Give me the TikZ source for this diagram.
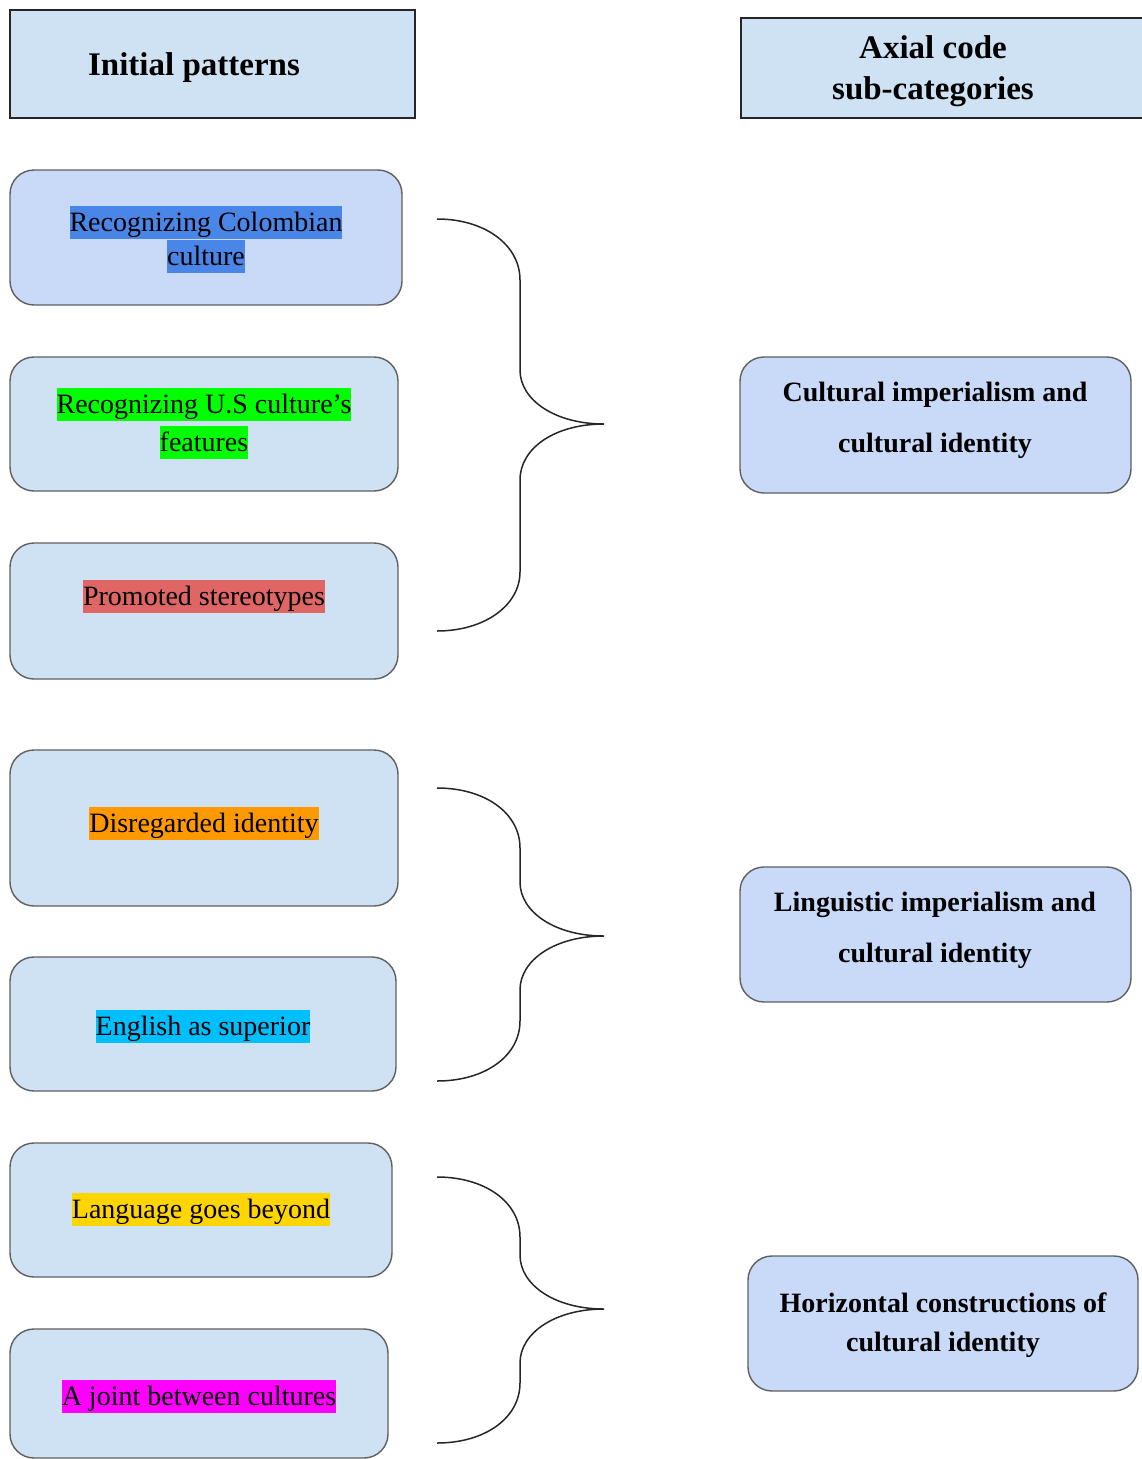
\documentclass[tikz,border=0pt]{standalone}
\usepackage{fontspec}
\setmainfont{Liberation Serif}
\usepackage{tikz}

\definecolor{paleblue}{HTML}{CFE2F3}
\definecolor{boxblue}{HTML}{C9DAF8}
\definecolor{boxline}{HTML}{5F5F5F}
\definecolor{hlblue}{HTML}{4A86E8}
\definecolor{hlgreen}{HTML}{00FF00}
\definecolor{hlred}{HTML}{E06666}
\definecolor{hlorange}{HTML}{FF9900}
\definecolor{hlcyan}{HTML}{00BFFF}
\definecolor{hlgold}{HTML}{FFD500}
\definecolor{hlmagenta}{HTML}{FF00FF}

\newcommand{\hilite}[2]{{\setlength{\fboxsep}{0pt}\colorbox{#1}{\rule[-7pt]{0pt}{33pt}#2}}}

\begin{document}
\begin{tikzpicture}[x=1pt,y=-1pt]
			\useasboundingbox (0,0) rectangle (1142,1459);
			% column headers
			\begin{scope}[every node/.style={rectangle,draw=black!85,line width=1.8pt,fill=paleblue,inner sep=0pt}]
	    		\node[minimum width=405pt,minimum height=108pt] (initial) at (212.5,64) {};
	    		\node[minimum width=404pt,minimum height=100pt] (axial) at (943,68) {};
			\end{scope}
			% initial patterns
			\begin{scope}[every node/.style={rectangle,rounded corners=24pt,draw=boxline,line width=1.4pt,fill=paleblue,inner sep=0pt}]
	    		\node[fill=boxblue,minimum width=392pt,minimum height=135pt] (colombian) at (206,237.5) {};
	    		\node[minimum width=388pt,minimum height=134pt] (usculture) at (204,424) {};
	    		\node[minimum width=388pt,minimum height=136pt] (stereo) at (204,611) {};
	    		\node[minimum width=388pt,minimum height=156pt] (disregard) at (204,828) {};
	    		\node[minimum width=386pt,minimum height=134pt] (english) at (203,1024) {};
	    		\node[minimum width=382pt,minimum height=134pt] (beyond) at (201,1210) {};
	    		\node[minimum width=378pt,minimum height=129pt] (joint) at (199,1393.5) {};
			\end{scope}
			% axial sub-categories
			\begin{scope}[every node/.style={rectangle,rounded corners=24pt,draw=boxline,line width=1.4pt,fill=boxblue,inner sep=0pt}]
	    		\node[minimum width=391pt,minimum height=136pt] (cultimp) at (935.5,425) {};
	    		\node[minimum width=391pt,minimum height=135pt] (lingimp) at (935.5,934.5) {};
	    		\node[minimum width=390pt,minimum height=135pt] (horiz) at (943,1323.5) {};
			\end{scope}

			\begin{scope}[every node/.style={align=center,inner sep=0pt,font=\fontsize{33}{41}\selectfont\bfseries}]
	    		\node (initialtxt) at (194,68) {Initial patterns};
	    		\node (axialtxt) at (933,71) {Axial code\\sub-categories};
			\end{scope}
			\begin{scope}[every node/.style={align=center,inner sep=0pt,font=\fontsize{28}{34}\selectfont}]
	    		\node (colombiantxt) at (206,239) {\hilite{hlblue}{Recognizing Colombian}\\\hilite{hlblue}{culture}};
	    		\node[font=\fontsize{28}{38}\selectfont] (usculturetxt) at (204,423) {\hilite{hlgreen}{Recognizing U.S culture’s}\\\hilite{hlgreen}{features}};
	    		\node (stereotxt) at (204,596) {\hilite{hlred}{Promoted stereotypes}};
	    		\node (disregardtxt) at (204,823) {\hilite{hlorange}{Disregarded identity}};
	    		\node (englishtxt) at (203,1026) {\hilite{hlcyan}{English as superior}};
	    		\node (beyondtxt) at (201,1209) {\hilite{hlgold}{Language goes beyond}};
	    		\node (jointtxt) at (199,1396) {\hilite{hlmagenta}{A joint between cultures}};
			\end{scope}
			\begin{scope}[every node/.style={align=center,inner sep=0pt,font=\fontsize{28}{51}\selectfont\bfseries}]
	    		\node (cultimptxt) at (935,420) {Cultural imperialism and\\cultural identity};
	    		\node (lingimptxt) at (935,930) {Linguistic imperialism and\\cultural identity};
	    		\node[font=\fontsize{28}{39}\selectfont\bfseries] (horiztxt) at (943,1325.5) {Horizontal constructions of\\cultural identity};
			\end{scope}

			% curly braces
			\begin{scope}[line width=1.5pt,draw=black!85]
				\draw (437,219) .. controls (485,219) and (520,245) .. (520,280) -- (520,370) .. controls (520,400) and (555,424) .. (604,424) .. controls (555,424) and (520,448) .. (520,480) -- (520,572) .. controls (520,605) and (485,631) .. (437,631);
				\draw (437,788) .. controls (485,788) and (520,813) .. (520,848) -- (520,882) .. controls (520,912) and (555,936) .. (604,936) .. controls (555,936) and (520,960) .. (520,990) -- (520,1021) .. controls (520,1056) and (485,1081) .. (437,1081);
				\draw (437,1177) .. controls (485,1177) and (520,1202) .. (520,1237) -- (520,1255) .. controls (520,1285) and (555,1309) .. (604,1309) .. controls (555,1309) and (520,1333) .. (520,1363) -- (520,1383) .. controls (520,1418) and (485,1443) .. (437,1443);
			\end{scope}
		\end{tikzpicture}
\end{document}
